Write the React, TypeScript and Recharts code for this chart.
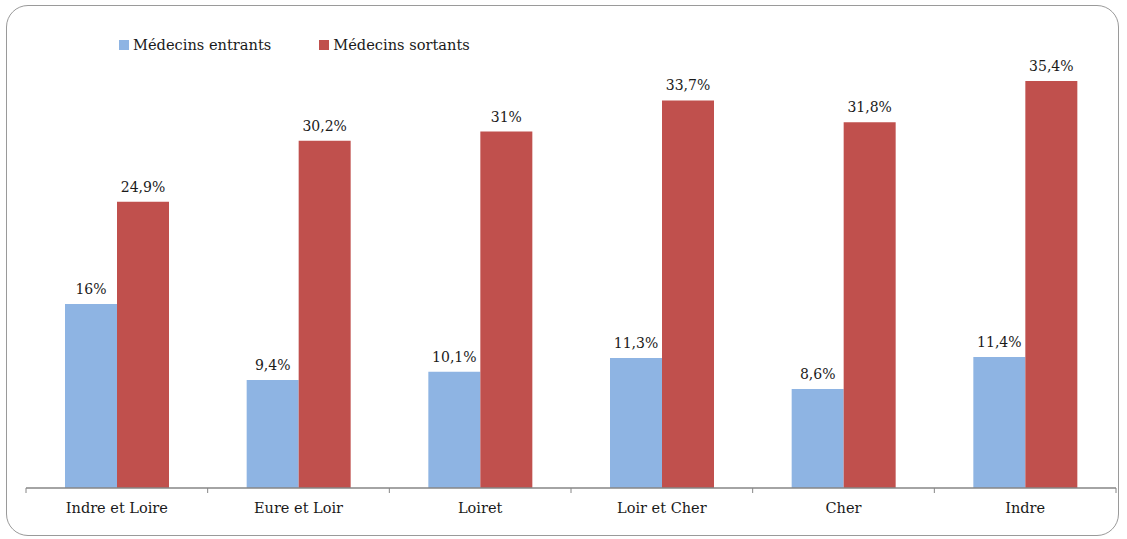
import React from 'react';
import { BarChart, Bar, XAxis, YAxis, LabelList, Legend } from 'recharts';

const departements = ['Indre et Loire', 'Eure et Loir', 'Loiret', 'Loir et Cher', 'Cher', 'Indre'];
const entrants = [16, 9.4, 10.1, 11.3, 8.6, 11.4];
const sortants = [24.9, 30.2, 31, 33.7, 31.8, 35.4];

const seriesNames = { entrants: 'Médecins entrants', sortants: 'Médecins sortants' };
const colors = { entrants: '#8EB4E3', sortants: '#C0504D' };

const data = departements.map((name, i) => ({
  name,
  entrants: entrants[i],
  sortants: sortants[i],
}));

const W = 1127;
const H = 539;
// top margin is small because the top legend adds its own height to the offset
const margin = { top: 11, right: 11, bottom: 21, left: 26 };
const bandWidth = (W - margin.left - margin.right) / departements.length;
const font = '"DejaVu Serif", serif';
const axisColor = '#868686';

const pct = (v: any) => String(v).replace('.', ',') + '%';

const CategoryTick = (props: any) => {
  const { x, y, payload, index } = props;
  const half = bandWidth / 2;
  return (
    <g>
      <line x1={x - half} x2={x - half} y1={y - 8} y2={y - 3} stroke={axisColor} />
      {index === departements.length - 1 ? (
        <line x1={x + half} x2={x + half} y1={y - 8} y2={y - 3} stroke={axisColor} />
      ) : null}
      <text x={x} y={y + 17} textAnchor="middle" fontFamily={font} fontSize={14.5} fill="#1a1a1a">
        {payload.value}
      </text>
    </g>
  );
};

const renderLegend = () => (
  <div style={{ display: 'flex', fontFamily: font, fontSize: 14.6, color: '#1a1a1a' }}>
    {(['entrants', 'sortants'] as const).map((k) => (
      <div key={k} style={{ display: 'flex', alignItems: 'center', marginRight: 48 }}>
        <span style={{ display: 'inline-block', width: 10, height: 10, background: colors[k], marginRight: 4 }} />
        <span>{seriesNames[k]}</span>
      </div>
    ))}
  </div>
);

export default function App() {
  return (
    <div style={{ position: 'absolute', left: 0, top: 0, width: W, height: H }}>
      <div
        style={{
          position: 'absolute',
          left: 6,
          top: 5,
          width: 1113,
          height: 531,
          border: '1.5px solid #9a9a9a',
          borderRadius: 22,
          boxSizing: 'border-box',
        }}
      />
      <BarChart width={W} height={H} data={data} margin={margin} barGap={0} barSize={52}>
        <XAxis
          dataKey="name"
          axisLine={{ stroke: axisColor, strokeWidth: 1.5 }}
          tickLine={false}
          tick={<CategoryTick />}
          height={30}
          interval={0}
        />
        <YAxis hide domain={[0, 40]} />
        <Legend
          verticalAlign="top"
          align="left"
          content={renderLegend}
          wrapperStyle={{ top: 36, left: 119, width: 'auto' }}
        />
        <Bar dataKey="entrants" fill={colors.entrants} isAnimationActive={false}>
          <LabelList dataKey="entrants" position="top" offset={10} formatter={pct} fontFamily={font} fontSize={14} fill="#1a1a1a" />
        </Bar>
        <Bar dataKey="sortants" fill={colors.sortants} isAnimationActive={false}>
          <LabelList dataKey="sortants" position="top" offset={10} formatter={pct} fontFamily={font} fontSize={14} fill="#1a1a1a" />
        </Bar>
      </BarChart>
    </div>
  );
}
